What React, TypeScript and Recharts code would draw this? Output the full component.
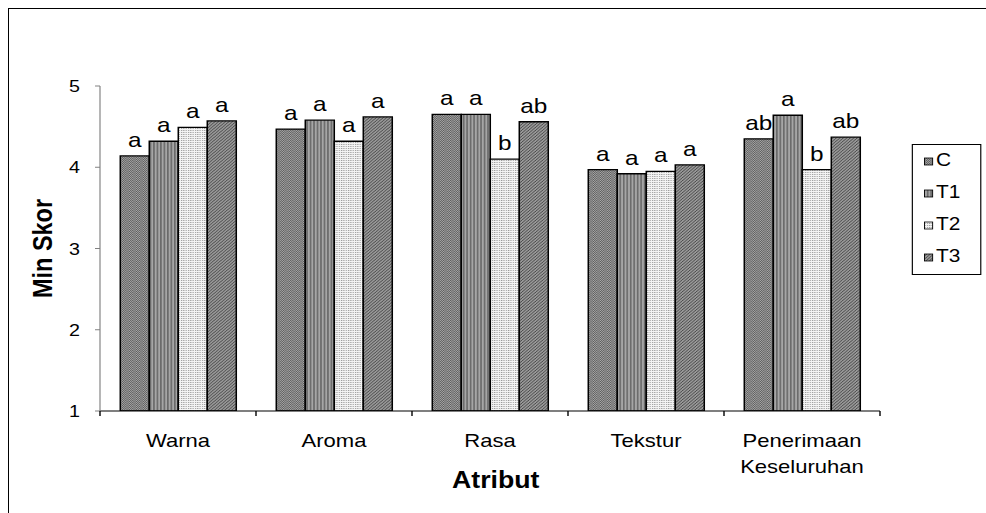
import { BarChart, Bar, XAxis, YAxis, Legend, LabelList } from 'recharts'

// sensory scores per attribute, one array per treatment
const attributes = ['Warna', 'Aroma', 'Rasa', 'Tekstur', 'Penerimaan Keseluruhan']
const scoreC = [4.14, 4.47, 4.65, 3.97, 4.35]
const scoreT1 = [4.32, 4.58, 4.65, 3.92, 4.64]
const scoreT2 = [4.49, 4.32, 4.1, 3.95, 3.97]
const scoreT3 = [4.57, 4.62, 4.56, 4.03, 4.37]

// significance letters shown above each bar
const letterC = ['a', 'a', 'a', 'a', 'ab']
const letterT1 = ['a', 'a', 'a', 'a', 'a']
const letterT2 = ['a', 'a', 'b', 'a', 'b']
const letterT3 = ['a', 'a', 'ab', 'a', 'ab']

const yTicks = [1, 2, 3, 4, 5]

const series = [
  { key: 'C', pattern: 'patC' },
  { key: 'T1', pattern: 'patT1' },
  { key: 'T2', pattern: 'patT2' },
  { key: 'T3', pattern: 'patT3' },
]

const chartData = attributes.map((name, i) => ({
  name,
  C: scoreC[i],
  T1: scoreT1[i],
  T2: scoreT2[i],
  T3: scoreT3[i],
  C_sig: letterC[i],
  T1_sig: letterT1[i],
  T2_sig: letterT2[i],
  T3_sig: letterT3[i],
}))

// the chart is laid out narrower and stretched horizontally
const STRETCH = 1.16
const FULL_W = 986
const CHART_W = 850
const CHART_H = 513
const Y_AXIS_W = 60
const X_AXIS_H = 60
const PLOT_LEFT = 100 / STRETCH
const PLOT_RIGHT = 880 / STRETCH
const margin = {
  top: 86,
  right: CHART_W - PLOT_RIGHT,
  bottom: CHART_H - 411 - X_AXIS_H,
  left: PLOT_LEFT - Y_AXIS_W,
}
const PLOT_W = PLOT_RIGHT - PLOT_LEFT
const AXIS_Y = CHART_H - margin.bottom - X_AXIS_H
const BAND = PLOT_W / attributes.length

function CategoryTick({ x, payload }: any) {
  const lines = String(payload.value).split(' ')
  const isLast = payload.value === attributes[attributes.length - 1]
  return (
    <g>
      <line x1={x - BAND / 2} x2={x - BAND / 2} y1={AXIS_Y} y2={AXIS_Y + 5} stroke="#000" strokeWidth={1.2} />
      {isLast && (
        <line x1={x + BAND / 2} x2={x + BAND / 2} y1={AXIS_Y} y2={AXIS_Y + 5} stroke="#000" strokeWidth={1.2} />
      )}
      <text x={x} y={AXIS_Y + 35.7} textAnchor="middle" fontSize={19} fill="#000">
        {lines.map((line, i) => (
          <tspan key={i} x={x} dy={i === 0 ? 0 : 26}>
            {line}
          </tspan>
        ))}
      </text>
    </g>
  )
}

function renderLetter(props: any) {
  const { x, y, width, value } = props
  return (
    <text x={Number(x) + Number(width) / 2} y={Number(y) - 9} textAnchor="middle" fontSize={21} fill="#000">
      {value}
    </text>
  )
}

function PatternLegend() {
  return (
    <svg width={58} height={129} style={{ display: 'block' }}>
      {series.map((s, i) => (
        <g key={s.key}>
          <rect
            x={10}
            y={13 + i * 32}
            width={7}
            height={7}
            fill={`url(#${s.pattern})`}
            stroke="#000"
            strokeWidth={0.8}
          />
          <text x={20} y={21 + i * 32} fontSize={18} fill="#000">
            {s.key}
          </text>
        </g>
      ))}
    </svg>
  )
}

export default function App() {
  return (
    <div style={{ position: 'absolute', left: 0, top: 0, width: FULL_W, height: CHART_H, overflow: 'hidden', background: '#fff' }}>
      <div
        style={{
          position: 'absolute',
          left: 8,
          top: 8,
          width: FULL_W - 8,
          height: CHART_H - 8,
          borderTop: '1px solid #000',
          borderLeft: '1px solid #000',
        }}
      />
      <div
        style={{
          position: 'absolute',
          left: 0,
          top: 0,
          width: CHART_W,
          height: CHART_H,
          transform: `scaleX(${STRETCH})`,
          transformOrigin: '0 0',
          fontFamily: '"Liberation Sans", Arial, sans-serif',
        }}
      >
        <BarChart
          width={CHART_W}
          height={CHART_H}
          data={chartData}
          margin={margin}
          barCategoryGap="13%"
          barGap={0}
        >
          <defs>
            <pattern id="patC" width={2} height={2} patternUnits="userSpaceOnUse">
              <rect width={2} height={2} fill="#a8a8a8" />
              <rect x={0} y={0} width={1} height={1} fill="#5c5c5c" />
              <rect x={1} y={1} width={1} height={1} fill="#5c5c5c" />
            </pattern>
            <pattern id="patT1" width={3} height={3} patternUnits="userSpaceOnUse">
              <rect width={3} height={3} fill="#a6a6a6" />
              <rect x={0} y={0} width={1.4} height={3} fill="#6a6a6a" />
            </pattern>
            <pattern id="patT2" width={2} height={2} patternUnits="userSpaceOnUse">
              <rect width={2} height={2} fill="#f4f4f4" />
              <rect x={0} y={0} width={1} height={1} fill="#9a9a9a" />
            </pattern>
            <pattern id="patT3" width={3} height={3} patternUnits="userSpaceOnUse">
              <rect width={3} height={3} fill="#999999" />
              <rect x={0} y={0} width={1} height={1} fill="#4a4a4a" />
              <rect x={2} y={1} width={1} height={1} fill="#4a4a4a" />
              <rect x={1} y={2} width={1} height={1} fill="#4a4a4a" />
            </pattern>
          </defs>
          <XAxis
            dataKey="name"
            height={X_AXIS_H}
            stroke="#000"
            strokeWidth={1.2}
            tickLine={false}
            tick={<CategoryTick />}
            interval={0}
            label={{
              content: () => (
                <text
                  x={PLOT_LEFT + PLOT_W / 2 + 5}
                  y={AXIS_Y + 77}
                  textAnchor="middle"
                  fontSize={23}
                  fontWeight="bold"
                  fill="#000"
                >
                  Atribut
                </text>
              ),
            }}
          />
          <YAxis
            width={Y_AXIS_W}
            domain={[1, 5]}
            ticks={yTicks}
            allowDataOverflow
            stroke="#808080"
            tickSize={4.3}
            tickMargin={13}
            tick={{ fontSize: 17, fill: '#000' }}
            label={{
              content: (props: any) => {
                const vb = props.viewBox
                const cx = 36.6
                const cy = vb.y + vb.height / 2
                return (
                  <text
                    x={cx}
                    y={cy}
                    transform={`rotate(-90 ${cx} ${cy})`}
                    textAnchor="middle"
                    dominantBaseline="central"
                    fontSize={23.5}
                    fontWeight="bold"
                    fill="#000"
                  >
                    Min Skor
                  </text>
                )
              },
            }}
          />
          <Legend
            layout="horizontal"
            align="center"
            verticalAlign="middle"
            content={() => <PatternLegend />}
            wrapperStyle={{
              left: 912 / STRETCH,
              top: 144,
              width: 60,
              height: 131,
              border: '1px solid #000',
              boxSizing: 'border-box',
              background: '#fff',
            }}
          />
          {series.map((s) => (
            <Bar
              key={s.key}
              dataKey={s.key}
              fill={`url(#${s.pattern})`}
              stroke="#000"
              strokeWidth={1.3}
              isAnimationActive={false}
            >
              <LabelList dataKey={`${s.key}_sig`} content={renderLetter} />
            </Bar>
          ))}
        </BarChart>
      </div>
    </div>
  )
}
